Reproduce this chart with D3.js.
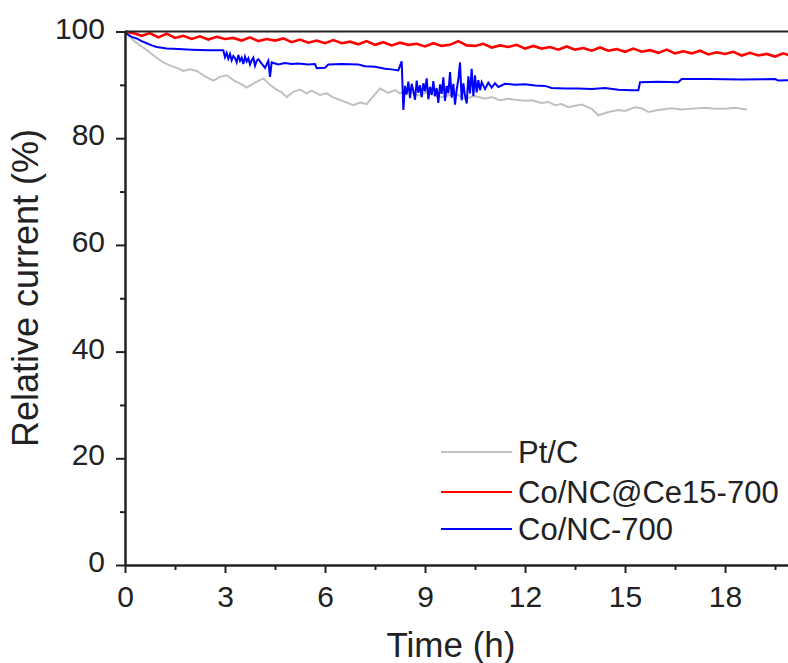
<!DOCTYPE html>
<html>
<head>
<meta charset="utf-8">
<script src="https://cdn.jsdelivr.net/npm/d3@7"></script>
<style>
  body { margin: 0; background: #fff; }
  svg { display: block; font-family: "Liberation Sans", Arial, sans-serif; }
</style>
</head>
<body>
<div class="vis-container"></div>
<script>
// ---- data ----
const seriesNames = ["Pt/C", "Co/NC@Ce15-700", "Co/NC-700"];

const ptcTime = [0, 0.1, 0.3, 0.5, 0.7, 0.9, 1.15, 1.4, 1.6, 1.75,
  1.95, 2.15, 2.4, 2.65, 2.85, 3.05, 3.3, 3.5, 3.65, 3.9,
  4.15, 4.35, 4.5, 4.7, 4.85, 5.05, 5.25, 5.45, 5.6, 5.85,
  6.05, 6.25, 6.4, 6.6, 6.85, 7.05, 7.25, 7.45, 7.65, 7.9,
  8.1, 8.25, 8.5, 8.8, 9.1, 9.4, 9.65, 9.9, 10.2, 10.5,
  10.8, 11.0, 11.25, 11.5, 11.7, 12.0, 12.2, 12.5, 12.7, 12.9,
  13.1, 13.3, 13.5, 13.7, 14.0, 14.2, 14.5, 14.8, 15.0, 15.3,
  15.5, 15.7, 16.0, 16.4, 16.7, 17.0, 17.4, 17.7, 18.0, 18.3, 18.66];
const ptcValue = [100, 99.3, 98.1, 97.2, 96.3, 95.3, 94.2, 93.5, 93.1, 92.6,
  92.9, 92.6, 91.6, 90.8, 91.5, 91.8, 90.7, 90.1, 89.5, 90.4,
  91.2, 90.0, 89.3, 88.6, 87.7, 88.7, 89.1, 88.4, 88.9, 88.1,
  88.4, 87.6, 87.3, 86.8, 86.2, 86.7, 86.4, 87.9, 89.3, 88.5,
  89.0, 88.4, 89.0, 88.0, 88.7, 87.6, 87.9, 88.4, 87.4, 87.9,
  87.4, 87.7, 87.1, 87.4, 87.2, 87.0, 87.1, 86.6, 86.8, 86.2,
  86.4, 85.8, 86.1, 86.3, 85.5, 84.3, 84.9, 85.3, 85.1, 85.8,
  85.6, 84.9, 85.3, 85.6, 85.4, 85.5, 85.7, 85.5, 85.5, 85.7, 85.4];

const ceTime = [0, 0.25, 0.5, 0.75, 1, 1.25, 1.5, 1.75, 2, 2.25,
  2.5, 2.75, 3, 3.25, 3.5, 3.75, 4, 4.25, 4.5, 4.75,
  5, 5.25, 5.5, 5.75, 6, 6.25, 6.5, 6.75, 7, 7.25,
  7.5, 7.75, 8, 8.25, 8.5, 8.75, 9, 9.25, 9.5, 9.75,
  10, 10.25, 10.5, 10.75, 11, 11.25, 11.5, 11.75, 12, 12.25,
  12.5, 12.75, 13, 13.25, 13.5, 13.75, 14, 14.25, 14.5, 14.75,
  15, 15.25, 15.5, 15.75, 16, 16.25, 16.5, 16.75, 17, 17.25,
  17.5, 17.75, 18, 18.25, 18.5, 18.75, 19, 19.25, 19.5, 19.75, 20];
const ceValue = [100.0, 99.7, 99.2, 99.7, 98.9, 99.6, 98.8, 99.2, 98.6, 99.1,
  98.5, 99.0, 98.6, 98.8, 98.3, 98.9, 98.2, 98.6, 98.3, 98.7,
  98.0, 98.5, 97.9, 98.3, 97.8, 98.4, 97.8, 98.1, 97.6, 98.2,
  97.5, 98.0, 97.4, 97.9, 97.5, 97.7, 97.2, 97.8, 97.3, 97.5,
  98.2, 97.4, 97.3, 97.7, 97.0, 97.4, 97.1, 97.5, 96.8, 97.3,
  96.8, 97.1, 96.6, 97.2, 96.6, 96.9, 96.4, 97.0, 96.4, 96.7,
  96.2, 96.8, 96.2, 96.5, 96.0, 96.6, 95.9, 96.3, 95.9, 96.4,
  95.7, 96.1, 95.8, 96.2, 95.5, 96.0, 95.5, 95.8, 95.3, 95.9, 95.4];

const coTime = [0, 0.05, 0.2, 0.35, 0.5, 0.65, 0.8, 0.95, 1.25, 1.6,
  2.0, 2.5, 2.95, 3.0, 3.05, 3.1, 3.15, 3.2, 3.25, 3.3,
  3.35, 3.4, 3.45, 3.5, 3.55, 3.6, 3.65, 3.7, 3.75, 3.8,
  3.85, 3.9, 3.95, 4.0, 4.1, 4.2, 4.3, 4.35, 4.4, 4.6,
  4.8, 5.0, 5.2, 5.5, 5.7, 5.75, 6.0, 6.1, 6.5, 7.0,
  7.2, 7.5, 7.8, 8.0, 8.2, 8.3, 8.35,
  8.4, 8.45, 8.5, 8.55, 8.6, 8.65, 8.7, 8.75, 8.8, 8.85,
  8.9, 8.95, 9.0, 9.05, 9.1, 9.15, 9.2, 9.25, 9.3, 9.35,
  9.4, 9.45, 9.5, 9.55, 9.6, 9.65, 9.7, 9.75, 9.8, 9.85,
  9.9, 9.95, 10.0, 10.05, 10.1, 10.15, 10.2, 10.25, 10.3, 10.35,
  10.4, 10.45, 10.5, 10.55, 10.6, 10.65, 10.7,
  10.8, 10.9, 11.0, 11.1, 11.2, 11.4, 11.7, 12.0, 12.3, 12.6,
  12.8, 13.2, 13.6, 14.0, 14.4, 14.8, 15.2, 15.4, 15.45, 16.0,
  16.6, 16.7, 17.5, 18.5, 19.5, 19.6, 20.0];
const coValue = [100, 99.6, 99.0, 98.7, 98.2, 97.8, 97.4, 97.1, 96.8, 96.7,
  96.6, 96.5, 96.5, 95.2, 96.0, 94.9, 95.8, 94.6, 95.4, 95.0,
  94.2, 95.6, 94.5, 95.1, 93.9, 95.3, 94.4, 95.0, 93.8, 94.6,
  95.1, 93.6, 94.5, 94.8, 94.0, 93.2, 94.5, 91.5, 94.2, 93.8,
  94.1, 93.9, 94.0, 93.8, 93.9, 93.1, 93.2, 93.8, 93.9, 93.8,
  93.5, 93.4, 93.0, 92.9, 92.7, 94.4, 85.3,
  89.8, 88.2, 90.6, 87.5, 90.2, 88.9, 87.2, 90.8, 88.5, 89.9,
  87.7, 90.3, 88.8, 91.2, 87.3, 89.6, 88.1, 90.7, 87.9, 89.4,
  86.6, 90.1, 88.3, 91.4, 87.0, 89.8, 88.4, 92.4, 87.6, 90.2,
  86.3, 89.1, 91.0, 94.2, 87.1, 90.3, 88.0, 86.5, 91.6, 88.4,
  93.0, 87.9, 91.8, 88.6, 90.9, 89.0, 90.5,
  89.2, 90.4, 89.5, 90.3, 89.6, 90.2, 90.0, 90.1, 89.9, 89.8,
  89.4, 89.3, 89.3, 89.2, 89.4, 89.1, 89.0, 89.0, 90.5, 90.6,
  90.5, 91.1, 91.1, 91.0, 91.1, 90.8, 90.9];

const xTicks = [0, 3, 6, 9, 12, 15, 18];
const xMinorTicks = [1.5, 4.5, 7.5, 10.5, 13.5, 16.5, 19.5];
const yTicks = [0, 20, 40, 60, 80, 100];
const yMinorTicks = [10, 30, 50, 70, 90];

// ---- layout ----
const width = 788;
const height = 663;
const colors = ["#c0c0c0", "#ff0000", "#0000ff"];
const strokeWidths = [2, 2.6, 2];

const xScale = d3.scaleLinear().domain([0, 20]).range([125, 791.7]);
const yScale = d3.scaleLinear().domain([0, 100]).range([565, 31.5]);

const svg = d3
  .select(".vis-container")
  .append("svg")
  .attr("width", width)
  .attr("height", height);

svg
  .append("clipPath")
  .attr("id", "plot-clip")
  .append("rect")
  .attr("x", xScale(0))
  .attr("y", yScale(100) - 3)
  .attr("width", xScale(20) - xScale(0))
  .attr("height", yScale(0) - yScale(100) + 3);

// series
const series = [
  d3.zip(ptcTime, ptcValue),
  d3.zip(ceTime, ceValue),
  d3.zip(coTime, coValue),
];

const line = d3
  .line()
  .x((d) => xScale(d[0]))
  .y((d) => yScale(d[1]));

const drawOrder = [0, 2, 1];
drawOrder.forEach((i) => {
  svg
    .append("path")
    .datum(series[i])
    .attr("clip-path", "url(#plot-clip)")
    .attr("fill", "none")
    .attr("stroke", colors[i])
    .attr("stroke-width", strokeWidths[i])
    .attr("stroke-linejoin", "miter")
    .attr("d", line);
});

// top frame
svg
  .append("line")
  .attr("x1", xScale(0))
  .attr("x2", xScale(20))
  .attr("y1", yScale(100))
  .attr("y2", yScale(100))
  .attr("stroke", "#222")
  .attr("stroke-width", 2);

// axes
const xAxis = d3
  .axisBottom(xScale)
  .tickValues(xTicks)
  .tickSize(8)
  .tickSizeOuter(0)
  .tickPadding(13);
const xMinor = d3
  .axisBottom(xScale)
  .tickValues(xMinorTicks)
  .tickSize(5)
  .tickSizeOuter(0)
  .tickFormat("");
const yAxis = d3
  .axisLeft(yScale)
  .tickValues(yTicks)
  .tickSize(9)
  .tickSizeOuter(0)
  .tickPadding(11);
const yMinor = d3
  .axisLeft(yScale)
  .tickValues(yMinorTicks)
  .tickSize(5)
  .tickSizeOuter(0)
  .tickFormat("");

function styleAxis(g) {
  g.select(".domain").attr("stroke", "#222").attr("stroke-width", 2);
  g.selectAll(".tick line").attr("stroke", "#222").attr("stroke-width", 2);
  g.selectAll(".tick text")
    .attr("fill", "#222")
    .style("font-size", "30px")
    .style("font-family", '"Liberation Sans", Arial, sans-serif');
}

svg
  .append("g")
  .attr("transform", `translate(0, ${yScale(0)})`)
  .call(xMinor)
  .call(styleAxis);
svg
  .append("g")
  .attr("id", "x-axis")
  .attr("transform", `translate(0, ${yScale(0)})`)
  .call(xAxis)
  .call(styleAxis);

svg
  .append("g")
  .attr("transform", `translate(${xScale(0)}, 0)`)
  .call(yMinor)
  .call(styleAxis);
svg
  .append("g")
  .attr("id", "y-axis")
  .attr("transform", `translate(${xScale(0)}, 0)`)
  .call(yAxis)
  .call(styleAxis)
  .selectAll(".tick text")
  .attr("dy", "0.22em");

// axis titles
svg
  .append("text")
  .attr("x", 451)
  .attr("y", 657)
  .attr("text-anchor", "middle")
  .attr("fill", "#222")
  .style("font-size", "35px")
  .text("Time (h)");

svg
  .append("text")
  .attr("transform", "rotate(-90)")
  .attr("x", -288)
  .attr("y", 38)
  .attr("text-anchor", "middle")
  .attr("fill", "#222")
  .style("font-size", "36px")
  .text("Relative current (%)");

// legend
const legendRows = [452, 492, 529];
seriesNames.forEach((name, i) => {
  const g = svg.append("g").attr("transform", `translate(441, ${legendRows[i]})`);
  g.append("line")
    .attr("x1", 0)
    .attr("x2", 71)
    .attr("stroke", colors[i])
    .attr("stroke-width", 2);
  g.append("text")
    .attr("x", 77)
    .attr("dy", "0.36em")
    .attr("fill", "#222")
    .style("font-size", "31px")
    .text(name);
});
</script>
</body>
</html>
